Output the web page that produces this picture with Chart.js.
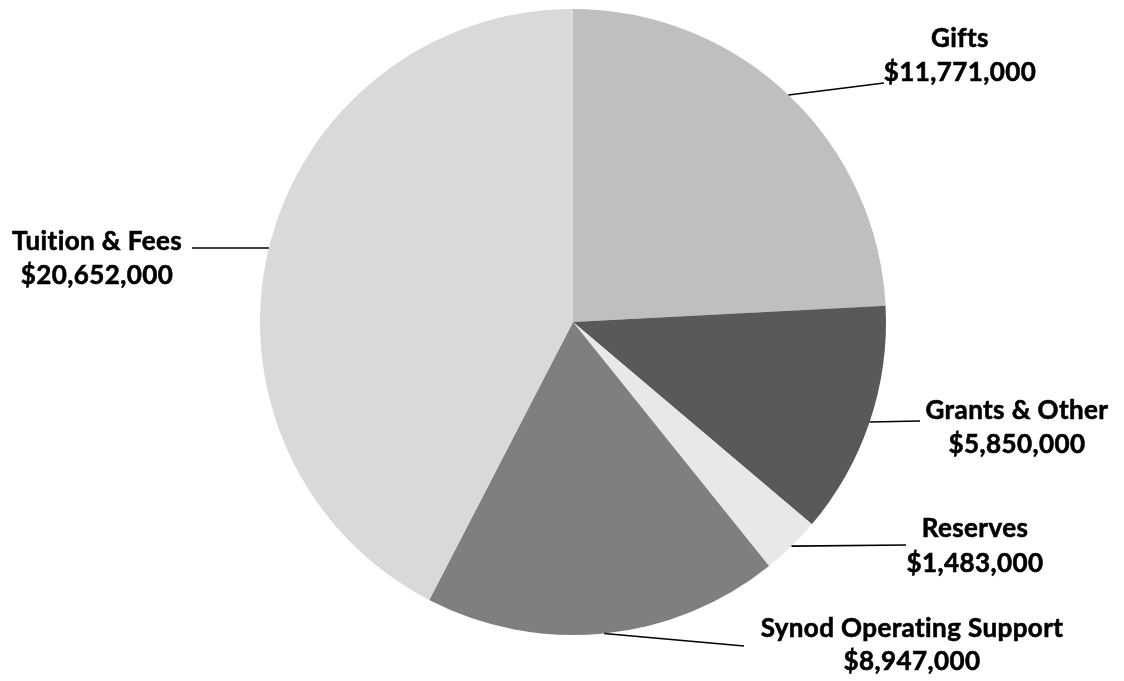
<!DOCTYPE html>
<html>
<head>
<meta charset="utf-8">
<script src="https://cdn.jsdelivr.net/npm/chart.js@4.4.1/dist/chart.umd.min.js"></script>
<style>
  html, body { margin: 0; padding: 0; background: #fff; }
  #wrap { width: 1124px; height: 681px; }
</style>
</head>
<body>
<div id="wrap"><canvas id="chart"></canvas></div>
<script>
const categories = ["Gifts", "Grants & Other", "Reserves", "Synod Operating Support", "Tuition & Fees"];
const amounts = [11771000, 5850000, 1483000, 8947000, 20652000];
const colors = ["#bfbfbf", "#595959", "#e8e8e8", "#7f7f7f", "#d9d9d9"];

// where each label sits, and where its leader line ends
const labelSpots = [
  { x: 960, y1: 39, y2: 73, lx: 884, ly: 83 },
  { x: 1017, y1: 411, y2: 445, lx: 920, ly: 421 },
  { x: 975, y1: 529, y2: 564, lx: 906, ly: 545 },
  { x: 912, y1: 629, y2: 662, lx: 744, ly: 646 },
  { x: 97, y1: 242, y2: 276, lx: 192, ly: 248 },
];

const fmt = (v) => "$" + v.toLocaleString("en-US");

const leaderLabels = {
  id: "leaderLabels",
  afterDatasetsDraw(chart) {
    const { ctx } = chart;
    const meta = chart.getDatasetMeta(0);
    ctx.save();
    meta.data.forEach((arc, i) => {
      const spot = labelSpots[i];
      const mid = (arc.startAngle + arc.endAngle) / 2;
      const sx = arc.x + Math.cos(mid) * arc.outerRadius;
      const sy = arc.y + Math.sin(mid) * arc.outerRadius;
      ctx.strokeStyle = "#000";
      ctx.lineWidth = 1.6;
      ctx.beginPath();
      ctx.moveTo(sx, sy);
      ctx.lineTo(spot.lx, spot.ly);
      ctx.stroke();

      // text, with a hairline stroke to get the heavier look
      ctx.fillStyle = "#000";
      ctx.lineWidth = 0.6;
      ctx.font = "bold 26px Lato, 'Open Sans', sans-serif";
      ctx.letterSpacing = "0.4px";
      ctx.textAlign = "center";
      ctx.textBaseline = "middle";
      ctx.fillText(categories[i], spot.x, spot.y1);
      ctx.strokeText(categories[i], spot.x, spot.y1);
      ctx.fillText(fmt(amounts[i]), spot.x, spot.y2);
      ctx.strokeText(fmt(amounts[i]), spot.x, spot.y2);
    });
    ctx.restore();
  },
};

new Chart(document.getElementById("chart"), {
  type: "pie",
  data: {
    labels: categories,
    datasets: [
      {
        data: amounts,
        backgroundColor: colors,
        borderWidth: 0,
      },
    ],
  },
  options: {
    responsive: true,
    maintainAspectRatio: false,
    animation: false,
    layout: {
      padding: { left: 260, right: 238, top: 9, bottom: 46 },
    },
    plugins: {
      legend: { display: false },
      tooltip: { enabled: false },
    },
  },
  plugins: [leaderLabels],
});
</script>
</body>
</html>
